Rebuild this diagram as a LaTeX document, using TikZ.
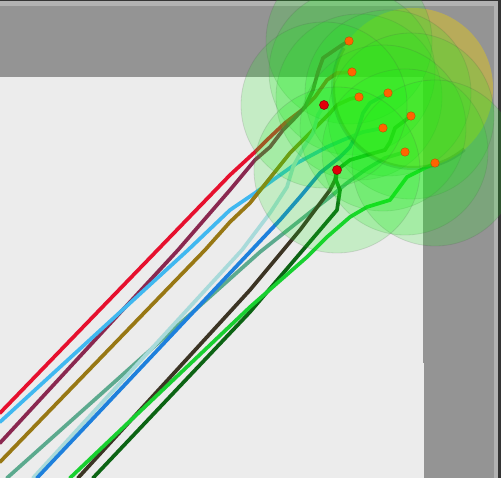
\documentclass[tikz,border=0pt]{standalone}
\usepackage{tikz}
\definecolor{wallgray}{RGB}{148,148,148}
\definecolor{floorgray}{RGB}{236,236,236}
\definecolor{rimgray}{RGB}{178,178,178}
\definecolor{framedark}{RGB}{52,52,52}
\definecolor{zoneyellow}{RGB}{230,200,20}
\definecolor{reachgreen}{RGB}{20,240,20}
\definecolor{agentorange}{RGB}{255,100,0}
\definecolor{stuckred}{RGB}{225,0,10}
\definecolor{trailred}{RGB}{230,16,46}
\definecolor{trailmaroon}{RGB}{138,40,80}
\definecolor{trailsky}{RGB}{64,184,240}
\definecolor{trailolive}{RGB}{152,120,20}
\definecolor{trailteal}{RGB}{92,170,142}
\definecolor{trailpale}{RGB}{168,218,218}
\definecolor{trailblue}{RGB}{30,128,220}
\definecolor{trailbrown}{RGB}{60,52,36}
\definecolor{traillime}{RGB}{24,208,48}
\definecolor{trailforest}{RGB}{12,100,20}
\tikzset{
  trail/.style={line width=3.7pt, line join=round, line cap=round},
  reach/.style={fill=reachgreen, fill opacity=0.18, draw=black!70, draw opacity=0.16, line width=0.8pt},
  goalzone/.style={fill=zoneyellow, fill opacity=0.45},
  goalrim/.style={draw=green!45!black, draw opacity=0.16, line width=4pt},
  agent/.style={circle, fill=agentorange, draw=agentorange!70!black, line width=0.3pt, minimum size=8.5pt, inner sep=0pt},
  stuck/.style={circle, fill=stuckred, draw=stuckred!60!black, line width=0.5pt, minimum size=9pt, inner sep=0pt}
}
\begin{document}
\begin{tikzpicture}[x=1pt,y=-1pt]
\useasboundingbox (0,0) rectangle (501,478);
\clip (0,0) rectangle (501,478);
\fill[wallgray] (0,0) rectangle (501,478);
\fill[framedark] (0,0) rectangle (501,1.3);
\fill[rimgray] (0,1.3) rectangle (497,6);
\fill[rimgray] (494,1.3) rectangle (498,478);
\fill[framedark] (498,0) rectangle (501,478);
\fill[floorgray] (0,77) rectangle (423,478);
\fill[floorgray] (423,363) rectangle (424,478);

\coordinate (a1) at (349,41);
\coordinate (a2) at (352,72);
\coordinate (a3) at (359,97);
\coordinate (a4) at (388,93);
\coordinate (a5) at (411,116);
\coordinate (a6) at (383,128);
\coordinate (a7) at (405,152);
\coordinate (a8) at (435,163);
\coordinate (r1) at (324,105);
\coordinate (r2) at (337,170);

\draw[trail, trailred] (0,413) -- (230,175) -- (255,152) -- (267,140) -- (285,123) -- (302,110) -- (315,97) -- (327,80) -- (337,73) -- (a2);
\draw[trail, trailmaroon] (0,443) -- (178,250) -- (230,190) -- (255,160) -- (270,147) -- (283,130) -- (293,120) -- (305,107) -- (313,90) -- (318,72) -- (323,58) -- (342,45) -- (a1);
\draw[trail, trailsky] (0,422) -- (188,250) -- (230,210) -- (255,193) -- (273,180) -- (297,163) -- (327,147) -- (343,140) -- (363,132) -- (a6);
\draw[trail, trailolive] (0,462) -- (205,250) -- (230,222) -- (250,203) -- (270,178) -- (290,153) -- (310,133) -- (323,120) -- (330,113) -- (337,105) -- (350,99) -- (a3);
\draw[trail, trailteal] (7,478) -- (260,252) -- (313,210) -- (330,197) -- (347,183) -- (365,170) -- (385,158) -- (a7);
\draw[trail, trailpale] (33,478) -- (242,250) -- (270,213) -- (287,187) -- (293,167) -- (302,150) -- (313,133) -- (318,115) -- (r1);
\draw[trail, trailblue] (37,478) -- (280,220) -- (300,197) -- (320,173) -- (340,157) -- (350,147) -- (357,133) -- (363,113) -- (370,103) -- (a4);
\draw[trail, trailbrown] (78,478) -- (250,290) -- (300,230) -- (330,190) -- (335,180) -- (r2);
\draw[trail, trailforest] (93,478) -- (250,312) -- (320,230) -- (337,210) -- (340,190) -- (336,180) -- (r2) -- (350,160) -- (367,155) -- (385,150) -- (390,142) -- (395,128) -- (a5);
\draw[trail, traillime] (70,478) -- (250,307) -- (307,257) -- (327,237) -- (350,217) -- (367,207) -- (390,200) -- (407,177) -- (427,167) -- (a8);

\fill[goalzone] (413,88) circle[radius=80pt];
\foreach \p in {a1,a2,a3,a4,a5,a6,a7,a8,r1,r2}
  \draw[reach] (\p) circle[radius=83pt];
\draw[goalrim] (413,88) ++(150:80pt) arc[start angle=150, end angle=310, radius=80pt];

\node[agent] (n1) at (a1) {};
\node[agent] (n2) at (a2) {};
\node[agent] (n3) at (a3) {};
\node[agent] (n4) at (a4) {};
\node[agent] (n5) at (a5) {};
\node[agent] (n6) at (a6) {};
\node[agent] (n7) at (a7) {};
\node[agent] (n8) at (a8) {};
\node[stuck] (s1) at (r1) {};
\node[stuck] (s2) at (r2) {};
\end{tikzpicture}
\end{document}
